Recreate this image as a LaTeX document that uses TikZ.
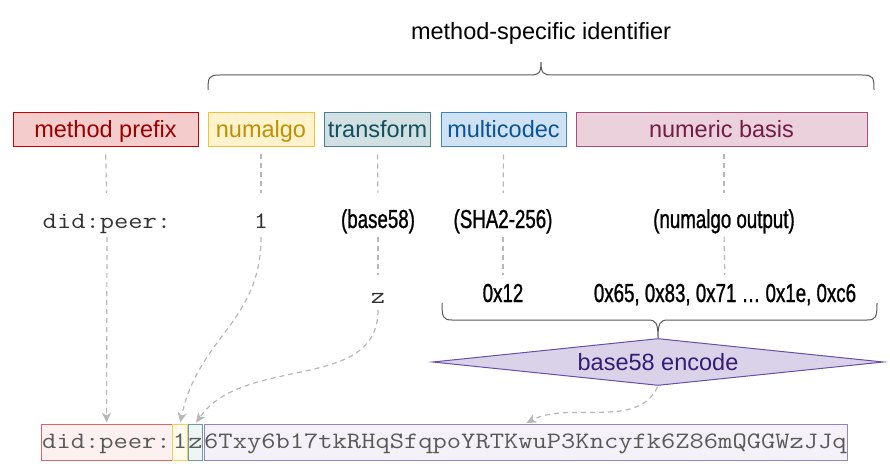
\documentclass[tikz,border=0pt]{standalone}
\usepackage{fontspec}
\setmainfont{Liberation Sans}
\setmonofont{Latin Modern Mono}[FakeStretch=1.18]
\newfontfamily\condfont[FakeStretch=0.72,FakeBold=1.0]{Liberation Sans}
\usetikzlibrary{shapes.geometric,arrows.meta}
\definecolor{redF}{HTML}{F4CCCC}\definecolor{redD}{HTML}{CC0000}\definecolor{redT}{HTML}{990000}
\definecolor{yelF}{HTML}{FFF2CC}\definecolor{yelD}{HTML}{F1C232}\definecolor{yelT}{HTML}{BF9000}
\definecolor{tealF}{HTML}{D0E0E3}\definecolor{tealD}{HTML}{45818E}\definecolor{tealT}{HTML}{134F5C}
\definecolor{bluF}{HTML}{CFE2F3}\definecolor{bluD}{HTML}{3D85C6}\definecolor{bluT}{HTML}{0B5394}
\definecolor{magF}{HTML}{EAD1DC}\definecolor{magD}{HTML}{A64D79}\definecolor{magT}{HTML}{741B47}
\definecolor{purF}{HTML}{D9D2E9}\definecolor{purD}{HTML}{674EA7}\definecolor{purT}{HTML}{351C75}
\definecolor{lnk}{HTML}{B7B7B7}
\definecolor{brc}{HTML}{595959}
\begin{document}
\begin{tikzpicture}[x=1pt,y=-1pt,
  topbox/.style={draw, line width=1pt, minimum height=34pt, inner sep=0pt,
    text height=16pt, text depth=0pt, font=\fontsize{23.5pt}{27pt}\selectfont},
  lbl/.style={anchor=base, inner sep=0pt, text height=17pt, text depth=5pt},
  mono/.style={lbl, font=\fontsize{23.5pt}{28pt}\ttfamily, text=black!80},
  cond/.style={lbl, font=\fontsize{26pt}{30pt}\condfont, text=black},
  botbox/.style={draw, line width=1pt, minimum height=36pt, inner sep=0pt,
    text height=17pt, text depth=5pt, font=\fontsize{23.5pt}{28pt}\ttfamily, text=black!65},
  dl/.style={draw=lnk, line width=1.2pt, dash pattern=on 5pt off 4pt},
  arr/.style={dl, -{Stealth[length=10pt,width=9pt,inset=3pt]}},
  brace/.style={draw=brc, line width=1pt}]
\useasboundingbox (0,0) rectangle (890,470);

% title and top brace
\node[anchor=base, inner sep=0pt, font=\fontsize{23.5pt}{27pt}\selectfont] (title) at (541,40) {method-specific identifier};
\path[brace] (208,90) .. controls (208,77) and (209,75) .. (220,75) -- (530,75)
  .. controls (539,75) and (541,73) .. (541,62) .. controls (541,73) and (543,75) .. (552,75)
  -- (862,75) .. controls (873,75) and (874,77) .. (874,90);

% top boxes
\node[topbox, fill=redF, draw=redD, text=redT, minimum width=185pt] (mp) at (105.5,130) {method prefix};
\node[topbox, fill=yelF, draw=yelD, text=yelT, minimum width=106pt] (na) at (261,130) {numalgo};
\node[topbox, fill=tealF, draw=tealD, text=tealT, minimum width=106pt] (tr) at (377.5,130) {transform};
\node[topbox, fill=bluF, draw=bluD, text=bluT, minimum width=125pt] (mc) at (503.5,130) {multicodec};
\node[topbox, fill=magF, draw=magD, text=magT, minimum width=291pt] (nb) at (721.5,130) {numeric basis};

% second row
\node[mono] (l1) at (107,228) {did:peer:};
\node[mono] (l2) at (261,228) {1};
\node[cond] (l3) at (378,228) {(base58)};
\node[cond] (l4) at (503,228) {(SHA2-256)};
\node[cond] (l5) at (724,228) {(numalgo output)};

% third row
\node[mono] (zz) at (378,303) {z};
\node[cond] (h1) at (503,302) {0x12};
\node[cond] (h2) at (725,302) {0x65, 0x83, 0x71 … 0x1e, 0xc6};

% lower brace
\path[brace] (442,303) .. controls (442,317) and (443,320) .. (452,320) -- (648,320)
  .. controls (656,320) and (658,323) .. (658,338) .. controls (658,323) and (660,320) .. (668,320)
  -- (867,320) .. controls (876,320) and (877,317) .. (877,303);

% diamond
\node[diamond, draw=purD, fill=purF, text=purT, line width=1pt, aspect=9.6, inner sep=0pt,
  minimum width=451pt, minimum height=47pt, text height=16pt, text depth=0pt,
  font=\fontsize{23.5pt}{27pt}\selectfont] (dia) at (658,362) {base58 encode};

% bottom boxes
\node[botbox, fill=redF!30, draw=redD!60, minimum width=131pt] (bd) at (106.5,442) {did:peer:};
\node[botbox, fill=yelF!40, draw=yelD!80, minimum width=14pt] (b1) at (180,442) {1};
\node[botbox, fill=tealF!35, draw=tealD!80, minimum width=13pt] (bz) at (195.5,442) {z};
\node[botbox, fill=purF!30, draw=purD!70, minimum width=643pt] (bl) at (525.5,442) {6Txy6b17tkRHqSfqpoYRTKwuP3Kncyfk6Z86mQGGWzJJq};

% connectors top -> second row
\path[dl, shorten <=7pt, shorten >=18pt] (mp.south) -- (l1.north);
\path[dl, shorten <=7pt, shorten >=18pt] (na.south) -- (l2.north);
\path[dl, shorten <=7pt, shorten >=18pt] (tr.south) -- (l3.north);
\path[dl, shorten <=7pt, shorten >=18pt] (mc.south) -- (l4.north);
\path[dl, shorten <=7pt, shorten >=18pt] (nb.south -| l5) -- (l5.north);

% second -> third
\path[dl, shorten <=4pt, shorten >=10pt] (l4.south) -- (h1.north);
\path[dl, shorten <=4pt, shorten >=10pt] (l5.south) -- (h2.north);
\path[dl, shorten <=4pt, shorten >=11pt] (l3.south) -- (zz.north);

% arrows to bottom
\path[arr, shorten <=4pt, shorten >=1pt] (l1.south) -- (bd.north);
\path[arr, shorten <=4pt, shorten >=1pt] (l2.south) to[out=-90, in=78, looseness=1.1] (b1.north);
\path[arr, shorten <=2pt, shorten >=1pt] (zz.south) to[out=-90, in=55, looseness=1.0] (bz.north);
\path[arr, shorten <=1pt, shorten >=1pt] (dia.south) to[out=-115, in=28, looseness=0.9] (bl.north);
\end{tikzpicture}
\end{document}
